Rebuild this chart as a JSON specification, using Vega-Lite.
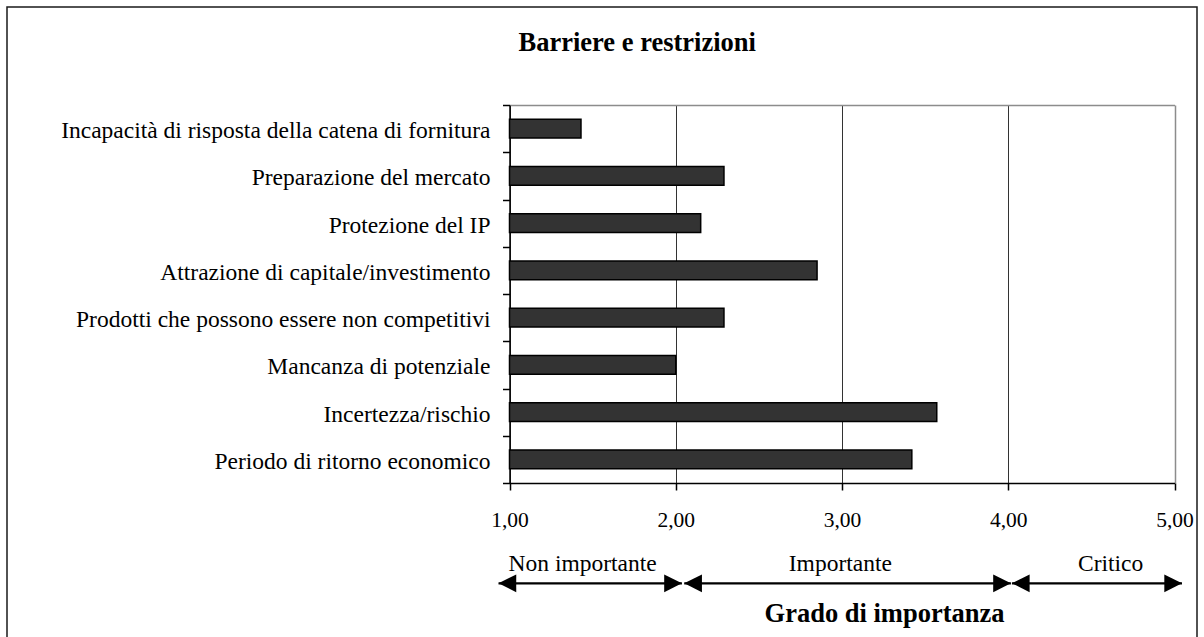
{
  "$schema": "https://vega.github.io/schema/vega-lite/v6.json",
  "width": 1190,
  "height": 632,
  "autosize": "none",
  "padding": {"left": 7, "top": 7, "right": 7, "bottom": 0},
  "background": "white",
  "config": {
    "font": "Liberation Serif",
    "view": {"stroke": "#1a1a1a", "strokeWidth": 1.5},
    "axis": {"labelColor": "#000000", "titleColor": "#000000", "labelFont": "Liberation Serif", "titleFont": "Liberation Serif"}
  },
  "datasets": {
    "barriere": [
      {"voce": "Incapacità di risposta della catena di fornitura", "valore": 1.43},
      {"voce": "Preparazione del mercato", "valore": 2.29},
      {"voce": "Protezione del IP", "valore": 2.15},
      {"voce": "Attrazione di capitale/investimento", "valore": 2.85},
      {"voce": "Prodotti  che possono essere non competitivi", "valore": 2.29},
      {"voce": "Mancanza di potenziale", "valore": 2.0},
      {"voce": "Incertezza/rischio", "valore": 3.57},
      {"voce": "Periodo di ritorno economico", "valore": 3.42}
    ],
    "zone": [
      {"zona": "Non importante", "inizio": 0.934, "fine": 2.037, "centro": 1.44},
      {"zona": "Importante", "inizio": 2.051, "fine": 4.016, "centro": 2.99},
      {"zona": "Critico", "inizio": 4.022, "fine": 5.045, "centro": 4.616}
    ]
  },
  "resolve": {"scale": {"y": "independent"}, "axis": {"x": "independent", "y": "independent"}},
  "layer": [
    {
      "data": {"name": "barriere"},
      "mark": {"type": "bar", "height": {"band": 0.4}, "fill": "#333333", "stroke": "#000000", "strokeWidth": 1.5},
      "encoding": {
        "y": {
          "field": "voce", "type": "nominal", "sort": null,
          "scale": {"range": [98, 476], "paddingInner": 0, "paddingOuter": 0},
          "axis": {"orient": "left", "offset": -502.5, "title": null, "tickBand": "extent", "domainColor": "#000000", "domainWidth": 1.5, "tickColor": "#000000", "tickSize": 7, "tickWidth": 1.5, "labelFontSize": 23.5, "labelPadding": 12.5, "labelLimit": 0, "labelOffset": 2, "grid": false}
        },
        "x": {
          "field": "valore", "type": "quantitative",
          "scale": {"domain": [1, 5], "range": [502.5, 1167.5], "zero": false, "nice": false},
          "axis": {"orient": "top", "offset": -98, "values": [1, 2, 3, 4, 5], "labels": false, "ticks": false, "domainColor": "#8c8c8c", "domainWidth": 1.5, "grid": true,
            "gridColor": {"condition": {"test": "datum.value === 5", "value": "#8c8c8c"}, "value": "#333333"},
            "gridWidth": {"condition": {"test": "datum.value === 5", "value": 1.5}, "value": 1},
            "title": "Barriere e restrizioni", "titleFontSize": 26.5, "titleFontWeight": "bold", "titleX": 629.7, "titleY": -55, "titleBaseline": "alphabetic", "titleAlign": "center"}
        },
        "x2": {"datum": 1}
      }
    },
    {
      "data": {"name": "zone"},
      "mark": {"type": "rule", "color": "#000000", "strokeWidth": 2.2},
      "encoding": {
        "x": {
          "field": "inizio", "type": "quantitative",
          "scale": {"domain": [1, 5], "range": [502.5, 1167.5], "zero": false, "nice": false},
          "axis": {"orient": "bottom", "offset": -156, "values": [1, 2, 3, 4, 5], "labelExpr": "replace(format(datum.value, '.2f'), '.', ',')", "labelFontSize": 21.5, "labelPadding": 19, "labelFlush": false, "labelOverlap": false, "domainColor": "#000000", "domainWidth": 1.5, "tickColor": "#000000", "tickSize": 7, "tickWidth": 1.5, "grid": false,
            "title": "Grado di importanza", "titleFontSize": 26.5, "titleFontWeight": "bold", "titleX": 877, "titleY": 138.7, "titleBaseline": "alphabetic", "titleAlign": "center"}
        },
        "x2": {"field": "fine"},
        "y": {"datum": "freccia", "type": "nominal", "scale": {"type": "point", "domain": ["etichetta", "freccia"], "range": [563.5, 576.3], "padding": 0}, "axis": null}
      }
    },
    {
      "data": {"name": "zone"},
      "mark": {"type": "point", "shape": "M-1,0L1,-1L1,1Z", "filled": true, "color": "#000000", "opacity": 1, "size": 313, "xOffset": 8.85},
      "encoding": {
        "x": {"field": "inizio", "type": "quantitative", "scale": {"domain": [1, 5], "range": [502.5, 1167.5], "zero": false, "nice": false}, "axis": null},
        "y": {"datum": "freccia", "type": "nominal", "scale": {"type": "point", "domain": ["etichetta", "freccia"], "range": [563.5, 576.3], "padding": 0}, "axis": null}
      }
    },
    {
      "data": {"name": "zone"},
      "mark": {"type": "point", "shape": "M1,0L-1,-1L-1,1Z", "filled": true, "color": "#000000", "opacity": 1, "size": 313, "xOffset": -8.85},
      "encoding": {
        "x": {"field": "fine", "type": "quantitative", "scale": {"domain": [1, 5], "range": [502.5, 1167.5], "zero": false, "nice": false}, "axis": null},
        "y": {"datum": "freccia", "type": "nominal", "scale": {"type": "point", "domain": ["etichetta", "freccia"], "range": [563.5, 576.3], "padding": 0}, "axis": null}
      }
    },
    {
      "data": {"name": "zone"},
      "mark": {"type": "text", "fontSize": 23.5, "baseline": "alphabetic", "align": "center", "color": "#000000", "font": "Liberation Serif"},
      "encoding": {
        "x": {"field": "centro", "type": "quantitative", "scale": {"domain": [1, 5], "range": [502.5, 1167.5], "zero": false, "nice": false}, "axis": null},
        "y": {"datum": "etichetta", "type": "nominal", "scale": {"type": "point", "domain": ["etichetta", "freccia"], "range": [563.5, 576.3], "padding": 0}, "axis": null},
        "text": {"field": "zona"}
      }
    }
  ]
}
